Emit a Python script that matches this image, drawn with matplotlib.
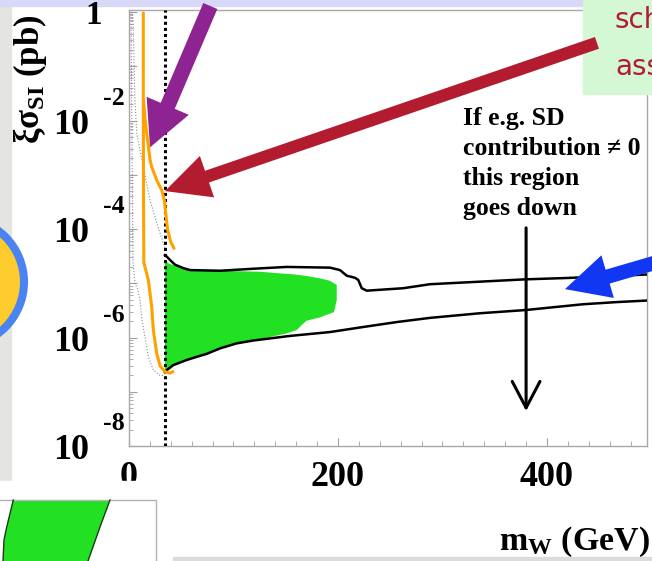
import numpy as np
import matplotlib.pyplot as plt
from matplotlib.patches import FancyArrowPatch, Rectangle, Circle, Polygon
from matplotlib.lines import Line2D
from matplotlib.ticker import LogLocator, MultipleLocator, NullFormatter
from matplotlib.transforms import Affine2D

plt.rcParams['mathtext.fontset'] = 'custom'
plt.rcParams['mathtext.rm'] = 'Liberation Serif:bold'
plt.rcParams['mathtext.it'] = 'Liberation Serif:bold'
plt.rcParams['mathtext.bf'] = 'Liberation Serif:bold'
SERIF = ['Liberation Serif', 'DejaVu Serif']

# allowed region, black contour (m_W in GeV, xi*sigma_SI in pb)
upper_mw = [34.4, 36.1, 39.2, 44.0, 52.0, 58.4, 87.1, 118.7, 150.9, 192.3, 201.9,
            208.3, 216.3, 219.4, 222.7, 227.5, 262.5, 288.0, 335.9, 378.9, 419.1, 495.7]
upper_xs = [3.3e-5, 3.1e-5, 2.7e-5, 2.2e-5, 1.9e-5, 1.75e-5, 1.7e-5, 1.85e-5, 2.0e-5,
            1.94e-5, 1.75e-5, 1.38e-5, 1.26e-5, 1.15e-5, 8.1e-6, 7.3e-6, 8.1e-6, 9.6e-6,
            1.07e-5, 1.18e-5, 1.25e-5, 1.45e-5]
lower_mw = [34.4, 36.1, 42.4, 55.2, 64.8, 74.4, 87.1, 103.1, 118.9, 154.1, 192.3, 223.9,
            256.5, 288.0, 335.9, 378.9, 434.4, 467.0, 495.7]
lower_xs = [2.3e-7, 2.5e-7, 3.1e-7, 3.85e-7, 4.4e-7, 5.0e-7, 6.3e-7, 7.8e-7, 8.8e-7,
            1.07e-6, 1.26e-6, 1.56e-6, 1.93e-6, 2.3e-6, 2.8e-6, 3.2e-6, 4.1e-6, 4.5e-6, 4.8e-6]

# green band
green_mw = [34.4, 37.6, 55.2, 87.1, 125.4, 144.5, 157.2, 170.0, 182.8, 192.3, 198.8, 198.8,
            196.2, 182.8, 170.0, 165.3, 160.5, 150.9, 134.9, 118.9, 103.1, 87.1, 74.4,
            55.2, 42.4, 34.4]
green_xs = [2.7e-5, 2.33e-5, 1.75e-5, 1.7e-5, 1.63e-5, 1.52e-5, 1.46e-5, 1.36e-5, 1.23e-5,
            1.11e-5, 9.3e-6, 4.9e-6, 2.95e-6, 2.35e-6, 2.04e-6, 1.7e-6, 1.37e-6, 1.19e-6,
            1.02e-6, 8.8e-7, 7.8e-7, 6.3e-7, 5.0e-7, 3.85e-7, 3.1e-7, 2.4e-7]

# orange limit curves
lim1_mw = [13.7, 13.7, 13.9, 14.2, 18.5, 21.7, 23.3, 26.5, 29.7, 34.4, 39.2, 42.1]
lim1_xs = [0.96, 2.4e-2, 3.4e-4, 2.4e-5, 1.15e-5, 3.7e-6, 1.37e-6, 5.1e-7, 3.0e-7,
           2.35e-7, 2.2e-7, 2.35e-7]
lim2_mw = [13.9, 15.3, 16.9, 20.1, 21.7, 26.5, 31.3, 33.8, 35.1, 37.0, 39.9, 43.1]
lim2_xs = [2.4e-2, 1.1e-2, 5.9e-3, 1.9e-3, 1.4e-3, 8.0e-4, 5.2e-4, 3.4e-4, 2.0e-4,
           9.6e-5, 5.8e-5, 4.4e-5]

# thin grey dotted curves
dot1_mw = [2.9, 4.1, 5.7, 7.4, 10.5, 13.7, 20.1, 24.9, 29.7, 34.4]
dot1_xs = [1.0, 0.53, 2.4e-2, 5.9e-3, 2.9e-3, 1.4e-3, 3.4e-4, 1.66e-4, 8.4e-5, 4.5e-5]
dot2_mw = [1.9, 2.9, 3.8, 5.7, 8.6, 10.5, 12.4, 15.3, 18.5, 23.3, 29.7, 33.5]
dot2_xs = [1.0, 2.9e-3, 2.7e-5, 1.0e-5, 7.5e-6, 4.9e-6, 2.1e-6, 1.02e-6, 4.4e-7,
           2.5e-7, 2.0e-7, 2.0e-7]

m_cut = 34.5

x_ticks = [0, 200, 400]
x_labels = ['0', '200', '400']
y_label_exps = [-2, -4, -6, -8]

# arrows: (tail, tip) in data coordinates
arrow_purple = ((77.8, 1.29), (20.1, 3.2e-3))
arrow_red = ((447.8, 0.27), (34.4, 5.0e-4))
arrow_blue = ((513.0, 2.7e-5), (417.2, 7.8e-6))
arrow_down = ((380.0, 1.05e-4), (380.0, 4.4e-8))

note = 'If e.g. SD\ncontribution \u2260 0\nthis region\ngoes down'

W, H = 652, 561
fig = plt.figure(figsize=(W / 100, H / 100), dpi=100)
fig.patch.set_facecolor('white')
# pixel coordinates measured from the top-left corner
pix = Affine2D().scale(1 / 100, -1 / 100).translate(0, H / 100) + fig.dpi_scale_trans

rect = [129 / W, 1 - 446 / H, 518 / W, 436 / H]
xlim = (0, 495.7)
ylim = (1e-8, 10 ** 0.037)

ax = fig.add_axes(rect)
ax.set_facecolor('none')
ax.set_yscale('log')
ax.set_xlim(*xlim)
ax.set_ylim(*ylim)

for s in ax.spines.values():
    s.set_color('#a8a8a8')
    s.set_linewidth(1.0)

ax.set_xticks(x_ticks, labels=x_labels, fontsize=26, fontweight='bold', family=SERIF)
ax.xaxis.set_minor_locator(MultipleLocator(20))
ax.yaxis.set_major_locator(LogLocator(base=10, numticks=20))
ax.yaxis.set_minor_locator(LogLocator(base=10, subs=np.arange(2, 10), numticks=100))
ax.yaxis.set_minor_formatter(NullFormatter())
ax.tick_params(which='both', direction='in', color='#a0a0a0', top=False, right=False)
ax.tick_params(axis='x', which='major', length=6, pad=10.5, labelcolor='black')
ax.tick_params(axis='x', which='minor', length=3.5)
ax.tick_params(axis='y', which='major', length=6, labelleft=False)
ax.tick_params(axis='y', which='minor', length=3)

# y tick labels, old style "10" with raised exponent
ytr = ax.get_yaxis_transform()
ax.annotate('1', xy=(0, 1.0), xycoords=ytr, xytext=(-25.2, -8.6),
            textcoords='offset points', ha='center', va='baseline',
            fontsize=24, fontweight='bold', family=SERIF)
for e in y_label_exps:
    ax.annotate('10', xy=(0, 10.0 ** e), xycoords=ytr, xytext=(-28.8, -9.4),
                textcoords='offset points', ha='right', va='baseline',
                fontsize=26, fontweight='bold', family=SERIF)
    ax.annotate('-%d' % -e, xy=(0, 10.0 ** e), xycoords=ytr, xytext=(-10.8, 11.2),
                textcoords='offset points', ha='center', va='baseline',
                fontsize=18.5, fontweight='bold', family=SERIF)

ax.text(-0.191, 0.84, '\u03be\u03c3$_{\\rm SI}$ (pb)', transform=ax.transAxes,
        rotation=90, ha='center', va='center', fontsize=25, fontweight='bold', family=SERIF)
ax.text(1.0058, -0.2385, 'm$_{\\rm W}$ (GeV)', transform=ax.transAxes,
        ha='right', va='baseline', fontsize=24.5, fontweight='bold', family=SERIF)

# curves
ax.fill(green_mw, green_xs, color='#22e022', lw=0, zorder=2)
ax.plot(upper_mw, upper_xs, color='black', lw=1.8, zorder=3)
ax.plot(lower_mw, lower_xs, color='black', lw=1.8, zorder=3)
ax.axvline(m_cut, color='black', lw=2.2, ls=(0, (1, 1)), zorder=4)
ax.plot(dot1_mw, dot1_xs, color='#8c8c8c', lw=0.8, ls=':', zorder=3)
ax.plot(dot2_mw, dot2_xs, color='#8c8c8c', lw=0.8, ls=':', zorder=3)
ax.plot(lim1_mw, lim1_xs, color='#ffa200', lw=2.2, zorder=5, solid_capstyle='round')
ax.plot(lim2_mw, lim2_xs, color='#ffa200', lw=2.2, zorder=5, solid_capstyle='round')

ax.text(319.6, 1.8e-2, note, ha='left', va='top', fontsize=18.5, fontweight='bold',
        family=SERIF, linespacing=1.4, zorder=6)
ax.add_patch(FancyArrowPatch(*arrow_down, arrowstyle='->,head_length=19,head_width=10',
                             mutation_scale=1, lw=2.2, color='black',
                             shrinkA=0, shrinkB=0, zorder=6))

# overlay axes for the big pointer arrows
ax_top = fig.add_axes(rect, zorder=2)
ax_top.set_yscale('log')
ax_top.set_xlim(*xlim)
ax_top.set_ylim(*ylim)
ax_top.axis('off')
for (tail, tip), col, hw, hl, tw in [(arrow_purple, '#8e2491', 33, 32.5, 11),
                                     (arrow_red, '#b31b2e', 31.5, 32, 8.9),
                                     (arrow_blue, '#1237f2', 32, 32, 10.4)]:
    style = 'simple,head_length=%g,head_width=%g,tail_width=%g' % (hl, hw, tw)
    ax_top.add_patch(FancyArrowPatch(tail, tip, arrowstyle=style, mutation_scale=1,
                                     color=col, lw=0, shrinkA=0, shrinkB=0, clip_on=False))

# slide furniture around the plot
fig.patches.append(Rectangle((0, 6), 11, 475, transform=pix, color='#e4e4e0', zorder=-1))
fig.patches.append(Rectangle((0, 0), 607, 6, transform=pix, color='#d8d8f8', zorder=-1))
fig.patches.append(Rectangle((173, 557), 479, 4, transform=pix, color='#dcdcd8', zorder=1))
fig.patches.append(Rectangle((583, 0), 69, 94, transform=pix, color='#d4f7d4', zorder=1))
fig.patches.append(Circle((-40, 282), 64, transform=pix, facecolor='#ffcc2e',
                          edgecolor='#4a84f2', lw=5.8, zorder=1))
fig.patches.append(Rectangle((0, 481), 172, 76, transform=pix, color='white', zorder=1))
fig.patches.append(Polygon([(13.3, 500), (110, 500), (100, 527), (88, 561), (3, 561),
                            (4, 540), (6.7, 527)], closed=True, transform=pix,
                           facecolor='#22e022', lw=0, zorder=1))
for xs, ys, col, lw in [([0, 156, 156], [500, 500, 561], '#b4b4b4', 1.0),
                        ([13.3, 6.7, 4, 3], [500, 527, 540, 561], '#1a3a1a', 1.0),
                        ([110, 100, 88], [500, 527, 561], '#1a3a1a', 1.0)]:
    fig.lines.append(Line2D(xs, ys, transform=pix, color=col, lw=lw, zorder=1.5))

fig.text(615 / W, 1 - 28 / H, 'sch', color='#b01c34', fontsize=20, family='DejaVu Sans',
         ha='left', va='baseline', zorder=4)
fig.text(615 / W, 1 - 75 / H, 'ass', color='#b01c34', fontsize=20, family='DejaVu Sans',
         ha='left', va='baseline', zorder=4)

fig.savefig('out.png', dpi=100)
